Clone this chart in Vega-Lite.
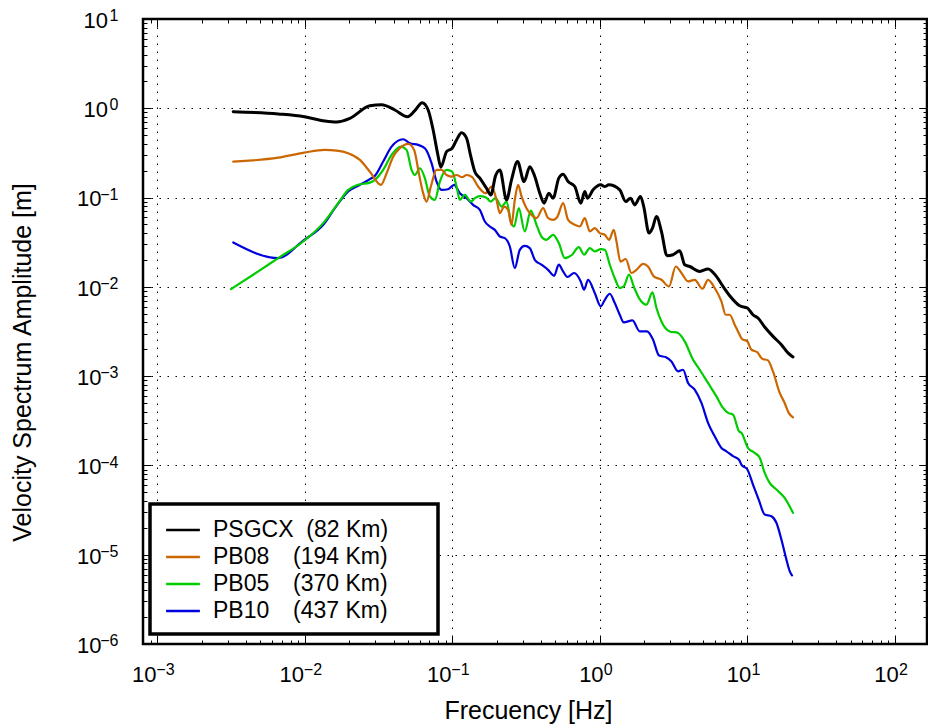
{
  "$schema": "https://vega.github.io/schema/vega-lite/v6.json",
  "width": 784,
  "height": 625,
  "autosize": {"type": "none"},
  "padding": {"left": 143, "top": 19, "right": 1, "bottom": 82},
  "background": "white",
  "config": {
    "font": "Liberation Sans",
    "view": {"stroke": "black", "strokeWidth": 2.5},
    "legend": {"strokeWidth": 3.5},
    "axis": {"domain": false, "tickColor": "black", "labelColor": "black", "titleColor": "black", "titleFontWeight": "normal", "labelFont": "Liberation Sans", "labelOverlap": false, "labelFlush": false, "labelBound": false}
  },
  "data": {"values": [
    {"s":"PB10","f":0.003272,"a":0.0314},{"s":"PB10","f":0.006604,"a":0.0210},{"s":"PB10","f":0.009754,"a":0.0330},{"s":"PB10","f":0.01333,"a":0.0495},{"s":"PB10","f":0.01599,"a":0.0761},{"s":"PB10","f":0.01968,"a":0.117},{"s":"PB10","f":0.02362,"a":0.139},{"s":"PB10","f":0.02762,"a":0.161},{"s":"PB10","f":0.02985,"a":0.175},{"s":"PB10","f":0.03398,"a":0.253},{"s":"PB10","f":0.03873,"a":0.372},{"s":"PB10","f":0.04642,"a":0.450},{"s":"PB10","f":0.05153,"a":0.406},{"s":"PB10","f":0.05864,"a":0.389},{"s":"PB10","f":0.06511,"a":0.357},{"s":"PB10","f":0.07229,"a":0.243},{"s":"PB10","f":0.07816,"a":0.151},{"s":"PB10","f":0.08449,"a":0.122},{"s":"PB10","f":0.09367,"a":0.124},{"s":"PB10","f":0.1028,"a":0.139},{"s":"PB10","f":0.1124,"a":0.112},{"s":"PB10","f":0.1248,"a":0.0985},{"s":"PB10","f":0.1383,"a":0.0828},{"s":"PB10","f":0.1536,"a":0.0728},{"s":"PB10","f":0.1661,"a":0.0539},{"s":"PB10","f":0.1795,"a":0.0474},{"s":"PB10","f":0.1940,"a":0.0435},{"s":"PB10","f":0.2099,"a":0.0366},{"s":"PB10","f":0.2269,"a":0.0351},{"s":"PB10","f":0.2453,"a":0.0283},{"s":"PB10","f":0.2651,"a":0.0162},{"s":"PB10","f":0.2866,"a":0.0260},{"s":"PB10","f":0.3098,"a":0.0288},{"s":"PB10","f":0.3349,"a":0.0272},{"s":"PB10","f":0.3621,"a":0.0201},{"s":"PB10","f":0.4020,"a":0.0177},{"s":"PB10","f":0.4457,"a":0.0155},{"s":"PB10","f":0.4894,"a":0.0133},{"s":"PB10","f":0.5267,"a":0.0177},{"s":"PB10","f":0.5632,"a":0.0149},{"s":"PB10","f":0.6032,"a":0.0129},{"s":"PB10","f":0.6686,"a":0.0143},{"s":"PB10","f":0.7423,"a":0.0115},{"s":"PB10","f":0.7816,"a":0.00928},{"s":"PB10","f":0.8320,"a":0.0120},{"s":"PB10","f":0.9235,"a":0.00852},{"s":"PB10","f":1.014,"a":0.00604},{"s":"PB10","f":1.080,"a":0.00717},{"s":"PB10","f":1.167,"a":0.00837},{"s":"PB10","f":1.262,"a":0.00659},{"s":"PB10","f":1.364,"a":0.00487},{"s":"PB10","f":1.452,"a":0.00400},{"s":"PB10","f":1.663,"a":0.00421},{"s":"PB10","f":1.863,"a":0.00317},{"s":"PB10","f":2.088,"a":0.00317},{"s":"PB10","f":2.293,"a":0.00256},{"s":"PB10","f":2.518,"a":0.00170},{"s":"PB10","f":2.826,"a":0.00162},{"s":"PB10","f":3.056,"a":0.00146},{"s":"PB10","f":3.388,"a":0.00113},{"s":"PB10","f":3.662,"a":0.00118},{"s":"PB10","f":3.960,"a":0.000839},{"s":"PB10","f":4.395,"a":0.000706},{"s":"PB10","f":4.881,"a":0.000501},{"s":"PB10","f":5.409,"a":0.000300},{"s":"PB10","f":6.004,"a":0.000212},{"s":"PB10","f":6.667,"a":0.000157},{"s":"PB10","f":7.207,"a":0.000144},{"s":"PB10","f":7.988,"a":0.000127},{"s":"PB10","f":8.774,"a":0.000116},{"s":"PB10","f":9.106,"a":0.000102},{"s":"PB10","f":10.00,"a":0.0000900},{"s":"PB10","f":10.91,"a":0.0000611},{"s":"PB10","f":11.93,"a":0.0000415},{"s":"PB10","f":13.10,"a":0.0000282},{"s":"PB10","f":14.54,"a":0.0000270},{"s":"PB10","f":15.73,"a":0.0000228},{"s":"PB10","f":17.00,"a":0.0000148},{"s":"PB10","f":18.37,"a":0.00000886},{"s":"PB10","f":19.35,"a":0.00000656},{"s":"PB10","f":20.06,"a":0.00000587},

    {"s":"PB05","f":0.003157,"a":0.00945},{"s":"PB05","f":0.004834,"a":0.0149},{"s":"PB05","f":0.006604,"a":0.0210},{"s":"PB05","f":0.009754,"a":0.0322},{"s":"PB05","f":0.01333,"a":0.0517},{"s":"PB05","f":0.01684,"a":0.0866},{"s":"PB05","f":0.01968,"a":0.122},{"s":"PB05","f":0.02300,"a":0.139},{"s":"PB05","f":0.02762,"a":0.147},{"s":"PB05","f":0.02985,"a":0.158},{"s":"PB05","f":0.03398,"a":0.204},{"s":"PB05","f":0.03873,"a":0.300},{"s":"PB05","f":0.04478,"a":0.372},{"s":"PB05","f":0.04894,"a":0.342},{"s":"PB05","f":0.05291,"a":0.204},{"s":"PB05","f":0.05570,"a":0.179},{"s":"PB05","f":0.06022,"a":0.213},{"s":"PB05","f":0.06511,"a":0.165},{"s":"PB05","f":0.07040,"a":0.103},{"s":"PB05","f":0.07610,"a":0.0943},{"s":"PB05","f":0.08228,"a":0.151},{"s":"PB05","f":0.09135,"a":0.204},{"s":"PB05","f":0.09968,"a":0.195},{"s":"PB05","f":0.1068,"a":0.133},{"s":"PB05","f":0.1124,"a":0.0943},{"s":"PB05","f":0.1215,"a":0.107},{"s":"PB05","f":0.1335,"a":0.0902},{"s":"PB05","f":0.1421,"a":0.0985},{"s":"PB05","f":0.1536,"a":0.104},{"s":"PB05","f":0.1679,"a":0.101},{"s":"PB05","f":0.1823,"a":0.0902},{"s":"PB05","f":0.1962,"a":0.0985},{"s":"PB05","f":0.2154,"a":0.0793},{"s":"PB05","f":0.2330,"a":0.0902},{"s":"PB05","f":0.2491,"a":0.0539},{"s":"PB05","f":0.2622,"a":0.0474},{"s":"PB05","f":0.2821,"a":0.0761},{"s":"PB05","f":0.3098,"a":0.0417},{"s":"PB05","f":0.3401,"a":0.0715},{"s":"PB05","f":0.3719,"a":0.0495},{"s":"PB05","f":0.4020,"a":0.0366},{"s":"PB05","f":0.4347,"a":0.0336},{"s":"PB05","f":0.4819,"a":0.0383},{"s":"PB05","f":0.5267,"a":0.0309},{"s":"PB05","f":0.5783,"a":0.0210},{"s":"PB05","f":0.6482,"a":0.0229},{"s":"PB05","f":0.7195,"a":0.0279},{"s":"PB05","f":0.7816,"a":0.0229},{"s":"PB05","f":0.8543,"a":0.0272},{"s":"PB05","f":0.9235,"a":0.0249},{"s":"PB05","f":1.014,"a":0.0265},{"s":"PB05","f":1.080,"a":0.0260},{"s":"PB05","f":1.167,"a":0.0177},{"s":"PB05","f":1.262,"a":0.0125},{"s":"PB05","f":1.364,"a":0.00970},{"s":"PB05","f":1.452,"a":0.0101},{"s":"PB05","f":1.577,"a":0.0137},{"s":"PB05","f":1.697,"a":0.0101},{"s":"PB05","f":1.843,"a":0.00749},{"s":"PB05","f":2.069,"a":0.00631},{"s":"PB05","f":2.272,"a":0.00866},{"s":"PB05","f":2.419,"a":0.00579},{"s":"PB05","f":2.614,"a":0.00410},{"s":"PB05","f":2.976,"a":0.00317},{"s":"PB05","f":3.388,"a":0.00304},{"s":"PB05","f":3.761,"a":0.00245},{"s":"PB05","f":4.280,"a":0.00153},{"s":"PB05","f":4.752,"a":0.00118},{"s":"PB05","f":5.409,"a":0.000839},{"s":"PB05","f":6.166,"a":0.000594},{"s":"PB05","f":6.835,"a":0.000441},{"s":"PB05","f":7.390,"a":0.000388},{"s":"PB05","f":7.988,"a":0.000371},{"s":"PB05","f":8.774,"a":0.000241},{"s":"PB05","f":9.106,"a":0.000232},{"s":"PB05","f":10.09,"a":0.000157},{"s":"PB05","f":11.21,"a":0.000138},{"s":"PB05","f":12.12,"a":0.000122},{"s":"PB05","f":13.10,"a":0.0000826},{"s":"PB05","f":14.16,"a":0.0000639},{"s":"PB05","f":15.73,"a":0.0000537},{"s":"PB05","f":17.89,"a":0.0000434},{"s":"PB05","f":20.37,"a":0.0000295},

    {"s":"PB08","f":0.003272,"a":0.253},{"s":"PB08","f":0.006604,"a":0.280},{"s":"PB08","f":0.009906,"a":0.319},{"s":"PB08","f":0.01368,"a":0.342},{"s":"PB08","f":0.01642,"a":0.336},{"s":"PB08","f":0.01968,"a":0.314},{"s":"PB08","f":0.02362,"a":0.264},{"s":"PB08","f":0.02762,"a":0.195},{"s":"PB08","f":0.03279,"a":0.139},{"s":"PB08","f":0.03583,"a":0.187},{"s":"PB08","f":0.03971,"a":0.287},{"s":"PB08","f":0.04408,"a":0.357},{"s":"PB08","f":0.05017,"a":0.399},{"s":"PB08","f":0.05510,"a":0.342},{"s":"PB08","f":0.05929,"a":0.187},{"s":"PB08","f":0.06341,"a":0.112},{"s":"PB08","f":0.06686,"a":0.0902},{"s":"PB08","f":0.07150,"a":0.133},{"s":"PB08","f":0.07816,"a":0.204},{"s":"PB08","f":0.08449,"a":0.204},{"s":"PB08","f":0.09135,"a":0.179},{"s":"PB08","f":0.09876,"a":0.172},{"s":"PB08","f":0.1068,"a":0.179},{"s":"PB08","f":0.1165,"a":0.169},{"s":"PB08","f":0.1248,"a":0.179},{"s":"PB08","f":0.1362,"a":0.169},{"s":"PB08","f":0.1495,"a":0.133},{"s":"PB08","f":0.1679,"a":0.112},{"s":"PB08","f":0.1843,"a":0.133},{"s":"PB08","f":0.1993,"a":0.0943},{"s":"PB08","f":0.2099,"a":0.0669},{"s":"PB08","f":0.2244,"a":0.0793},{"s":"PB08","f":0.2389,"a":0.0728},{"s":"PB08","f":0.2518,"a":0.0495},{"s":"PB08","f":0.2651,"a":0.0943},{"s":"PB08","f":0.2791,"a":0.139},{"s":"PB08","f":0.2943,"a":0.103},{"s":"PB08","f":0.3181,"a":0.0761},{"s":"PB08","f":0.3439,"a":0.0640},{"s":"PB08","f":0.3719,"a":0.0588},{"s":"PB08","f":0.4122,"a":0.0761},{"s":"PB08","f":0.4457,"a":0.0588},{"s":"PB08","f":0.4819,"a":0.0563},{"s":"PB08","f":0.5162,"a":0.0613},{"s":"PB08","f":0.5632,"a":0.0866},{"s":"PB08","f":0.6089,"a":0.0563},{"s":"PB08","f":0.6761,"a":0.0495},{"s":"PB08","f":0.7307,"a":0.0474},{"s":"PB08","f":0.7901,"a":0.0588},{"s":"PB08","f":0.8543,"a":0.0417},{"s":"PB08","f":0.9235,"a":0.0455},{"s":"PB08","f":0.9984,"a":0.0400},{"s":"PB08","f":1.080,"a":0.0383},{"s":"PB08","f":1.154,"a":0.0336},{"s":"PB08","f":1.242,"a":0.0435},{"s":"PB08","f":1.296,"a":0.0322},{"s":"PB08","f":1.379,"a":0.0192},{"s":"PB08","f":1.497,"a":0.0205},{"s":"PB08","f":1.637,"a":0.0143},{"s":"PB08","f":1.770,"a":0.0155},{"s":"PB08","f":1.962,"a":0.0181},{"s":"PB08","f":2.121,"a":0.0169},{"s":"PB08","f":2.319,"a":0.0131},{"s":"PB08","f":2.614,"a":0.0120},{"s":"PB08","f":2.943,"a":0.0101},{"s":"PB08","f":3.268,"a":0.0169},{"s":"PB08","f":3.572,"a":0.0143},{"s":"PB08","f":3.960,"a":0.0115},{"s":"PB08","f":4.395,"a":0.0120},{"s":"PB08","f":4.957,"a":0.00952},{"s":"PB08","f":5.409,"a":0.0120},{"s":"PB08","f":6.004,"a":0.00970},{"s":"PB08","f":6.667,"a":0.00687},{"s":"PB08","f":7.129,"a":0.00487},{"s":"PB08","f":7.588,"a":0.00487},{"s":"PB08","f":8.204,"a":0.00377},{"s":"PB08","f":8.638,"a":0.00317},{"s":"PB08","f":9.192,"a":0.00261},{"s":"PB08","f":10.00,"a":0.00245},{"s":"PB08","f":10.64,"a":0.00198},{"s":"PB08","f":11.69,"a":0.00185},{"s":"PB08","f":12.56,"a":0.00157},{"s":"PB08","f":13.79,"a":0.00150},{"s":"PB08","f":14.91,"a":0.00113},{"s":"PB08","f":16.56,"a":0.000649},{"s":"PB08","f":17.89,"a":0.000501},{"s":"PB08","f":19.05,"a":0.000388},{"s":"PB08","f":20.37,"a":0.000346},

    {"s":"PSGCX","f":0.003272,"a":0.916},{"s":"PSGCX","f":0.006604,"a":0.863},{"s":"PSGCX","f":0.009906,"a":0.805},{"s":"PSGCX","f":0.01368,"a":0.721},{"s":"PSGCX","f":0.01642,"a":0.703},{"s":"PSGCX","f":0.02021,"a":0.773},{"s":"PSGCX","f":0.02762,"a":1.069},{"s":"PSGCX","f":0.03314,"a":1.097},{"s":"PSGCX","f":0.04077,"a":0.957},{"s":"PSGCX","f":0.04971,"a":0.805},{"s":"PSGCX","f":0.0557,"a":0.940},{"s":"PSGCX","f":0.06242,"a":1.155},{"s":"PSGCX","f":0.06856,"a":0.957},{"s":"PSGCX","f":0.07411,"a":0.572},{"s":"PSGCX","f":0.07937,"a":0.314},{"s":"PSGCX","f":0.08358,"a":0.219},{"s":"PSGCX","f":0.09135,"a":0.327},{"s":"PSGCX","f":0.09968,"a":0.357},{"s":"PSGCX","f":0.1068,"a":0.442},{"s":"PSGCX","f":0.1154,"a":0.533},{"s":"PSGCX","f":0.1248,"a":0.462},{"s":"PSGCX","f":0.1335,"a":0.287},{"s":"PSGCX","f":0.1421,"a":0.195},{"s":"PSGCX","f":0.1536,"a":0.165},{"s":"PSGCX","f":0.1705,"a":0.127},{"s":"PSGCX","f":0.1823,"a":0.107},{"s":"PSGCX","f":0.1962,"a":0.175},{"s":"PSGCX","f":0.2099,"a":0.204},{"s":"PSGCX","f":0.233,"a":0.0943},{"s":"PSGCX","f":0.2518,"a":0.158},{"s":"PSGCX","f":0.2765,"a":0.253},{"s":"PSGCX","f":0.3064,"a":0.151},{"s":"PSGCX","f":0.3349,"a":0.222},{"s":"PSGCX","f":0.3621,"a":0.172},{"s":"PSGCX","f":0.3915,"a":0.112},{"s":"PSGCX","f":0.4188,"a":0.0866},{"s":"PSGCX","f":0.4506,"a":0.112},{"s":"PSGCX","f":0.4819,"a":0.0985},{"s":"PSGCX","f":0.5267,"a":0.165},{"s":"PSGCX","f":0.5632,"a":0.183},{"s":"PSGCX","f":0.6089,"a":0.151},{"s":"PSGCX","f":0.6761,"a":0.133},{"s":"PSGCX","f":0.7423,"a":0.0866},{"s":"PSGCX","f":0.7901,"a":0.117},{"s":"PSGCX","f":0.8241,"a":0.0985},{"s":"PSGCX","f":0.8992,"a":0.122},{"s":"PSGCX","f":1.014,"a":0.139},{"s":"PSGCX","f":1.080,"a":0.133},{"s":"PSGCX","f":1.149,"a":0.139},{"s":"PSGCX","f":1.364,"a":0.122},{"s":"PSGCX","f":1.497,"a":0.0902},{"s":"PSGCX","f":1.612,"a":0.0985},{"s":"PSGCX","f":1.724,"a":0.0828},{"s":"PSGCX","f":1.884,"a":0.103},{"s":"PSGCX","f":1.983,"a":0.0793},{"s":"PSGCX","f":2.154,"a":0.0400},{"s":"PSGCX","f":2.272,"a":0.0455},{"s":"PSGCX","f":2.419,"a":0.0613},{"s":"PSGCX","f":2.614,"a":0.0417},{"s":"PSGCX","f":2.853,"a":0.0223},{"s":"PSGCX","f":3.133,"a":0.0229},{"s":"PSGCX","f":3.478,"a":0.0253},{"s":"PSGCX","f":3.761,"a":0.0177},{"s":"PSGCX","f":4.066,"a":0.0169},{"s":"PSGCX","f":4.752,"a":0.0149},{"s":"PSGCX","f":5.409,"a":0.0159},{"s":"PSGCX","f":6.166,"a":0.0131},{"s":"PSGCX","f":6.835,"a":0.0101},{"s":"PSGCX","f":7.588,"a":0.00795},{"s":"PSGCX","f":8.867,"a":0.00614},{"s":"PSGCX","f":10.0,"a":0.00579},{"s":"PSGCX","f":10.91,"a":0.00487},{"s":"PSGCX","f":11.80,"a":0.00448},{"s":"PSGCX","f":13.10,"a":0.00355},{"s":"PSGCX","f":14.91,"a":0.00279},{"s":"PSGCX","f":17.0,"a":0.00225},{"s":"PSGCX","f":18.84,"a":0.00182},{"s":"PSGCX","f":20.37,"a":0.00164}
  ]},
  "layer": [
    {
      "mark": {"type": "point", "opacity": 0},
      "encoding": {
        "x": {"field": "f", "type": "quantitative",
          "scale": {"type": "log", "domain": [0.0008, 165], "nice": false},
          "axis": {
            "orient": "bottom",
            "values": [0.0009,0.001,0.002,0.003,0.004,0.005,0.006,0.007,0.008,0.009,0.01,0.02,0.03,0.04,0.05,0.06,0.07,0.08,0.09,0.1,0.2,0.3,0.4,0.5,0.6,0.7,0.8,0.9,1,2,3,4,5,6,7,8,9,10,20,30,40,50,60,70,80,90,100],
            "labels": false,
            "tickSize": {"condition": {"test": "abs(log(datum.value)/LN10 - round(log(datum.value)/LN10)) < 0.000001", "value": -8}, "value": -4},
            "tickWidth": 1,
            "grid": true, "gridColor": "black", "gridDash": [1.5, 6.5], "gridWidth": 1,
            "gridOpacity": {"condition": {"test": "abs(log(datum.value)/LN10 - round(log(datum.value)/LN10)) < 0.000001", "value": 1}, "value": 0},
            "title": "Frecuency [Hz]", "titleFontSize": 25, "titleFont": "Liberation Sans",
            "titleX": 385, "titleY": 74, "titleBaseline": "alphabetic", "titleAlign": "center", "titleAnchor": "middle"
          }
        },
        "y": {"field": "a", "type": "quantitative",
          "scale": {"type": "log", "domain": [0.000001, 10], "nice": false},
          "axis": {
            "orient": "left",
            "values": [0.000001,0.000002,0.000003,0.000004,0.000005,0.000006,0.000007,0.000008,0.000009,0.00001,0.00002,0.00003,0.00004,0.00005,0.00006,0.00007,0.00008,0.00009,0.0001,0.0002,0.0003,0.0004,0.0005,0.0006,0.0007,0.0008,0.0009,0.001,0.002,0.003,0.004,0.005,0.006,0.007,0.008,0.009,0.01,0.02,0.03,0.04,0.05,0.06,0.07,0.08,0.09,0.1,0.2,0.3,0.4,0.5,0.6,0.7,0.8,0.9,1,2,3,4,5,6,7,8,9,10],
            "labels": false,
            "tickSize": {"condition": {"test": "abs(log(datum.value)/LN10 - round(log(datum.value)/LN10)) < 0.000001", "value": -8}, "value": -4},
            "tickWidth": 1,
            "grid": true, "gridColor": "black", "gridDash": [1.5, 6.5], "gridWidth": 1,
            "gridOpacity": {"condition": {"test": "abs(log(datum.value)/LN10 - round(log(datum.value)/LN10)) < 0.000001", "value": 1}, "value": 0},
            "title": "Velocity Spectrum Amplitude [m]", "titleFontSize": 25, "titleFont": "Liberation Sans",
            "titleX": -113, "titleY": 343, "titleBaseline": "alphabetic", "titleAlign": "center", "titleAngle": 270
          }
        }
      }
    },
    {
      "mark": {"type": "point", "opacity": 0},
      "encoding": {
        "x": {"field": "f", "type": "quantitative",
          "axis": {"orient": "bottom", "values": [0.001, 0.01, 0.1], "labelExpr": "'10'",
            "labelFontSize": 22, "labelAlign": "center", "labelBaseline": "alphabetic", "labelPadding": 37.4, "labelOffset": -13.5,
            "ticks": false, "grid": false, "title": null}
        },
        "y": {"field": "a", "type": "quantitative",
          "axis": {"orient": "left", "values": [0.000001, 0.00001, 0.0001, 0.001, 0.01, 0.1], "labelExpr": "'10'",
            "labelFontSize": 22, "labelAlign": "right", "labelBaseline": "alphabetic", "labelPadding": 42, "labelOffset": 8.3,
            "ticks": false, "grid": false, "title": null}
        }
      }
    },
    {
      "mark": {"type": "point", "opacity": 0},
      "encoding": {
        "x": {"field": "f", "type": "quantitative",
          "axis": {"orient": "bottom", "values": [1, 10, 100], "labelExpr": "'10'",
            "labelFontSize": 22, "labelAlign": "center", "labelBaseline": "alphabetic", "labelPadding": 37.4, "labelOffset": -9,
            "ticks": false, "grid": false, "title": null}
        },
        "y": {"field": "a", "type": "quantitative",
          "axis": {"orient": "left", "values": [1, 10], "labelExpr": "'10'",
            "labelFontSize": 22, "labelAlign": "right", "labelBaseline": "alphabetic", "labelPadding": 35.5, "labelOffset": 8.3,
            "ticks": false, "grid": false, "title": null}
        }
      }
    },
    {
      "mark": {"type": "point", "opacity": 0},
      "encoding": {
        "x": {"field": "f", "type": "quantitative",
          "axis": {"orient": "bottom", "values": [0.001, 0.01, 0.1], "labelExpr": "'−' + abs(round(log(datum.value)/LN10))",
            "labelFontSize": 16, "labelAlign": "left", "labelBaseline": "alphabetic", "labelPadding": 30.7, "labelOffset": -1.5,
            "ticks": false, "grid": false, "title": null}
        },
        "y": {"field": "a", "type": "quantitative",
          "axis": {"orient": "left", "values": [0.000001, 0.00001, 0.0001, 0.001, 0.01, 0.1, 1, 10],
            "labelExpr": "(datum.value < 0.5 ? '−' : '') + abs(round(log(datum.value)/LN10))",
            "labelFontSize": 16, "labelAlign": "right", "labelBaseline": "alphabetic", "labelPadding": 25, "labelOffset": 1.7,
            "ticks": false, "grid": false, "title": null}
        }
      }
    },
    {
      "mark": {"type": "point", "opacity": 0},
      "encoding": {
        "x": {"field": "f", "type": "quantitative",
          "axis": {"orient": "bottom", "values": [1, 10, 100], "labelExpr": "'' + round(log(datum.value)/LN10)",
            "labelFontSize": 16, "labelAlign": "left", "labelBaseline": "alphabetic", "labelPadding": 30.7, "labelOffset": 3.5,
            "ticks": false, "grid": false, "title": null}
        },
        "y": {"field": "a", "type": "quantitative", "axis": null}
      }
    },
    {
      "mark": {"type": "line", "strokeJoin": "round", "strokeCap": "round", "interpolate": "monotone"},
      "encoding": {
        "x": {"field": "f", "type": "quantitative",
          "axis": {
            "orient": "top",
            "values": [0.0009,0.001,0.002,0.003,0.004,0.005,0.006,0.007,0.008,0.009,0.01,0.02,0.03,0.04,0.05,0.06,0.07,0.08,0.09,0.1,0.2,0.3,0.4,0.5,0.6,0.7,0.8,0.9,1,2,3,4,5,6,7,8,9,10,20,30,40,50,60,70,80,90,100],
            "labels": false, "title": null, "grid": false,
            "tickSize": {"condition": {"test": "abs(log(datum.value)/LN10 - round(log(datum.value)/LN10)) < 0.000001", "value": -8}, "value": -4},
            "tickWidth": 1
          }
        },
        "y": {"field": "a", "type": "quantitative",
          "axis": {
            "orient": "right",
            "values": [0.000001,0.000002,0.000003,0.000004,0.000005,0.000006,0.000007,0.000008,0.000009,0.00001,0.00002,0.00003,0.00004,0.00005,0.00006,0.00007,0.00008,0.00009,0.0001,0.0002,0.0003,0.0004,0.0005,0.0006,0.0007,0.0008,0.0009,0.001,0.002,0.003,0.004,0.005,0.006,0.007,0.008,0.009,0.01,0.02,0.03,0.04,0.05,0.06,0.07,0.08,0.09,0.1,0.2,0.3,0.4,0.5,0.6,0.7,0.8,0.9,1,2,3,4,5,6,7,8,9,10],
            "labels": false, "title": null, "grid": false,
            "tickSize": {"condition": {"test": "abs(log(datum.value)/LN10 - round(log(datum.value)/LN10)) < 0.000001", "value": -8}, "value": -4},
            "tickWidth": 1
          }
        },
        "color": {"field": "s", "type": "nominal",
          "scale": {"domain": ["PSGCX", "PB08", "PB05", "PB10"], "range": ["#000000", "#cc6600", "#00cc00", "#0000dd"]},
          "legend": {
            "orient": "none", "legendX": 7, "legendY": 485, "title": null,
            "symbolType": "M-1.25,0H1.25", "symbolSize": 729, "symbolStrokeWidth": 2.5,
            "labelFontSize": 23, "labelFont": "Liberation Sans", "labelColor": "black",
            "strokeColor": "black", "fillColor": "white", "padding": 11, "rowPadding": 0,
            "labelOffset": 15, "symbolOffset": 7, "labelLimit": 400,
            "labelExpr": "datum.label == 'PSGCX' ? 'PSGCX\u00a0\u00a0(82 Km)\u00a0\u00a0\u00a0\u00a0\u00a0\u00a0\u200b' : datum.label == 'PB08' ? 'PB08\u00a0\u00a0\u00a0\u2009(194 Km)' : datum.label == 'PB05' ? 'PB05\u00a0\u00a0\u00a0\u2009(370 Km)' : 'PB10\u00a0\u00a0\u00a0\u2009(437 Km)'"
          }
        },
        "strokeWidth": {"condition": {"test": "datum.s === 'PSGCX'", "value": 3}, "value": 2.2}
      }
    }
  ],
  "resolve": {"axis": {"x": "independent", "y": "independent"}}
}
